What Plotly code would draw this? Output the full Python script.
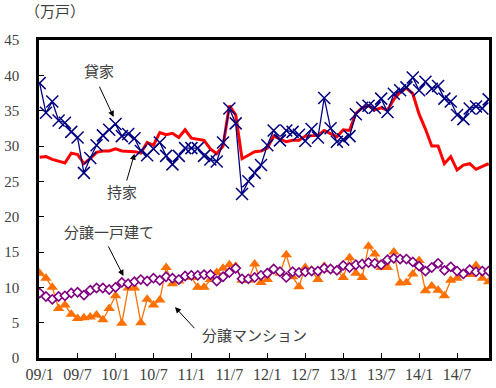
import plotly.graph_objects as go

months = [f"{y:02d}/{m}" for y in range(9, 15) for m in range(1, 13)]
tick_labels = ["09/1", "09/7", "10/1", "10/7", "11/1", "11/7", "12/1", "12/7",
               "13/1", "13/7", "14/1", "14/7"]

kashiya = [38.9, 34.7, 36.3, 33.6, 33.3, 32.0, 31.2, 26.2, 28.3, 30.1, 31.5, 32.3,
           33.1, 31.4, 31.7, 31.1, 29.3, 28.7, 29.6, 30.5, 28.6, 27.4, 28.6, 29.7,
           29.7, 29.7, 28.6, 28.1, 27.8, 30.5, 35.3, 33.2, 23.2, 25.0, 26.2, 27.3,
           30.1, 32.2, 30.8, 32.2, 32.0, 31.6, 30.7, 32.4, 31.2, 36.8, 32.5, 30.6,
           30.9, 31.4, 34.5, 35.4, 35.7, 35.4, 36.7, 34.8, 37.4, 37.9, 38.3, 39.7,
           37.9, 39.1, 38.1, 38.5, 36.7, 36.3, 34.4, 33.8, 35.3, 35.6, 35.3, 36.6]

mochiie = [28.4, 28.5, 28.1, 27.9, 27.6, 29.0, 28.8, 27.5, 28.2, 29.1, 29.3, 29.3,
           29.6, 29.3, 29.3, 29.2, 29.0, 30.5, 30.1, 31.9, 31.6, 31.8, 31.2, 32.3,
           31.1, 31.0, 30.8, 29.6, 28.9, 30.0, 35.7, 34.4, 28.2, 28.7, 29.2, 29.3,
           29.7, 31.4, 31.0, 30.6, 30.8, 30.8, 31.4, 31.4, 31.5, 32.2, 31.8, 31.3,
           32.3, 32.2, 34.6, 35.4, 35.7, 35.1, 35.4, 35.1, 36.6, 37.6, 38.2, 37.4,
           34.5, 32.4, 30.0, 30.0, 27.5, 28.5, 26.6, 27.3, 27.5, 26.7, 27.1, 27.5]

bunjo_kodate = [9.2, 8.7, 8.3, 8.7, 8.8, 9.2, 9.3, 8.9, 9.6, 9.9, 9.9, 9.7,
                10.0, 10.7, 10.5, 10.8, 11.1, 10.9, 11.3, 11.0, 11.5, 11.3, 11.1, 11.6,
                11.7, 11.7, 11.8, 11.8, 10.9, 11.5, 12.1, 12.7, 11.2, 11.2, 11.4, 11.7,
                12.0, 12.6, 12.2, 11.4, 12.2, 12.1, 12.2, 12.3, 12.3, 12.7, 12.6, 12.4,
                13.1, 12.8, 13.2, 13.3, 13.5, 13.4, 13.2, 13.9, 14.1, 14.0, 14.0, 13.6,
                13.0, 12.3, 12.8, 13.4, 12.4, 12.9, 12.3, 11.9, 12.5, 12.2, 12.3, 12.3]

bunjo_mansion = [12.0, 11.3, 10.0, 7.0, 7.5, 6.2, 5.6, 5.7, 5.8, 6.1, 5.4, 7.0,
                 8.8, 4.9, 9.9, 9.9, 5.0, 8.3, 7.5, 8.2, 12.8, 10.5, 10.9, 11.4,
                 11.4, 10.0, 10.0, 11.1, 12.1, 12.7, 13.2, 13.0, 11.0, 11.0, 13.3, 10.7,
                 11.1, 12.3, 12.0, 14.6, 11.5, 10.1, 12.8, 12.4, 11.1, 13.0, 12.5, 12.4,
                 11.4, 14.2, 12.0, 11.4, 15.8, 14.7, 12.8, 12.8, 15.0, 10.6, 10.7, 11.9,
                 13.8, 9.5, 10.2, 9.6, 8.8, 11.0, 11.3, 11.8, 11.8, 13.1, 11.3, 10.8]

FONT = "Liberation Serif, Noto Sans CJK JP, serif"
GRAY = "#404040"

fig = go.Figure()
fig.add_trace(go.Scatter(x=months, y=mochiie, mode="lines",
                         line=dict(color="#ff0000", width=3), name="持家"))
fig.add_trace(go.Scatter(x=months, y=kashiya, mode="lines+markers",
                         line=dict(color="#000080", width=1.3),
                         marker=dict(symbol="x-thin-open", size=12,
                                     line=dict(color="#000080", width=1.5)),
                         name="貸家"))
fig.add_trace(go.Scatter(x=months, y=bunjo_mansion, mode="lines+markers",
                         line=dict(color="#ff7000", width=1.3),
                         marker=dict(symbol="triangle-up", size=10, color="#ff7000"),
                         name="分譲マンション"))
fig.add_trace(go.Scatter(x=months, y=bunjo_kodate, mode="lines+markers",
                         line=dict(color="#800080", width=1.5),
                         marker=dict(symbol="diamond", size=7, color="white",
                                     line=dict(color="#800080", width=1.6)),
                         name="分譲一戸建て"))

def label(text, x, y):
    fig.add_annotation(x=x, y=y, xref="x", yref="y", text=text, showarrow=False,
                       font=dict(family=FONT, size=15, color=GRAY))

def arrow(tail_x, tail_y, tip_x, tip_y):
    fig.add_annotation(x=tip_x, y=tip_y, ax=tail_x, ay=tail_y, xref="x", yref="y",
                       axref="x", ayref="y", text="", showarrow=True,
                       arrowhead=2, arrowsize=1.2, arrowwidth=1, arrowcolor="black")

label("貸家", 9.35, 40.45)
arrow(9.35, 38.6, 11.7, 34.1)
label("持家", 13.1, 23.3)
arrow(13.7, 24.9, 15.0, 28.9)
label("分譲一戸建て", 10.9, 17.7)
arrow(10.75, 16.0, 13.25, 11.6)
label("分譲マンション", 33.9, 3.1)
arrow(24.7, 4.0, 21.4, 7.2)

fig.add_annotation(xref="paper", yref="paper", x=-0.035, y=1.088, xanchor="left",
                   yanchor="middle", text="（万戸）", showarrow=False,
                   font=dict(family=FONT, size=15, color=GRAY))

fig.update_layout(
    width=496, height=388,
    margin=dict(l=38, r=4, t=40, b=30),
    paper_bgcolor="white", plot_bgcolor="white",
    showlegend=False,
    font=dict(family=FONT, size=15, color=GRAY),
)
fig.update_xaxes(type="category", range=[-0.1, 71.05], tickmode="array",
                 tickvals=tick_labels, ticktext=tick_labels,
                 showgrid=False, zeroline=False,
                 showline=True, mirror=True, linecolor="black", linewidth=2.5,
                 ticks="inside", ticklen=5, tickcolor="black", tickwidth=1,
                 tickfont=dict(family=FONT, size=16, color=GRAY))
fig.update_yaxes(range=[0, 45], dtick=5, tick0=0, showgrid=False, zeroline=False,
                 showline=True, mirror=True, linecolor="black", linewidth=2.5,
                 ticks="inside", ticklen=5, tickcolor="black", tickwidth=1,
                 ticklabelstandoff=14,
                 tickfont=dict(family=FONT, size=15, color=GRAY))

fig.write_html("out.html")
